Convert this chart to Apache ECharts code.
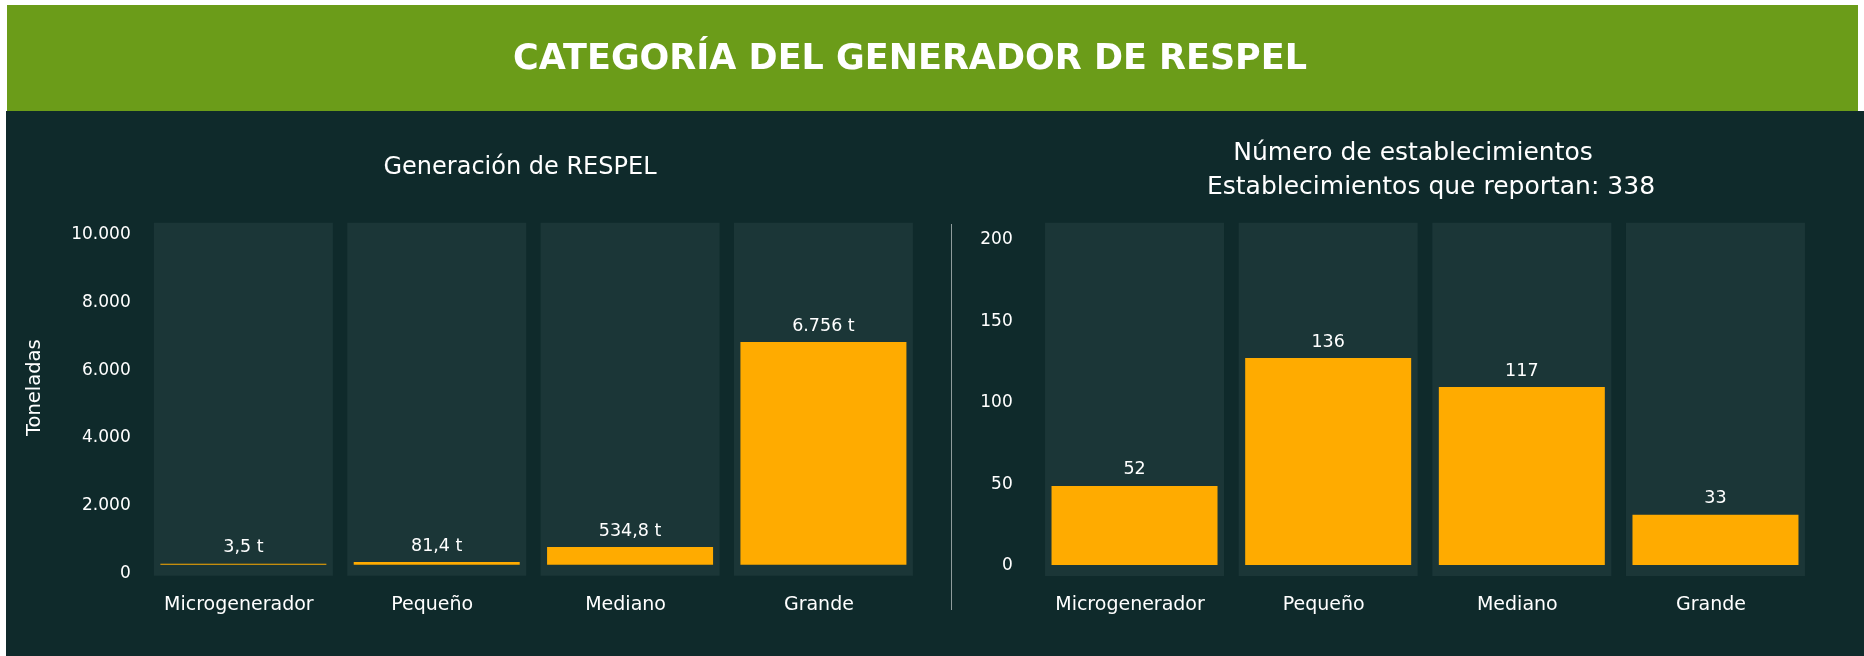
<!DOCTYPE html>
<html>
<head>
<meta charset="utf-8">
<script src="https://cdn.jsdelivr.net/npm/echarts@6/dist/echarts.min.js"></script>
<style>
  html, body { margin: 0; padding: 0; background: #ffffff; }
  .page { position: relative; width: 1864px; height: 656px; overflow: hidden; }
  .header { position: absolute; left: 7px; top: 5px; width: 1851px; height: 106px; background: #6b9c19; }
  .body { position: absolute; left: 6px; top: 111px; right: 0; bottom: 0; background: #0f2a2b; }
  #chart { position: absolute; left: 0; top: 0; width: 1864px; height: 656px; }
</style>
</head>
<body>
<div class="page">
  <div class="header"></div>
  <div class="body"></div>
  <div id="chart"></div>
</div>
<script>
// datos
const categories = ['Microgenerador', 'Pequeño', 'Mediano', 'Grande'];
const toneladas = [3.5, 81.4, 534.8, 6756];
const establecimientos = [52, 136, 117, 33];
const totalReportan = 338;
const tonTicks = [0, 2000, 4000, 6000, 8000, 10000];
const estTicks = [0, 50, 100, 150, 200];

const FONT = 'DejaVu Sans';
const BAR = '#ffab00';
const PANEL = '#1b3637';

// 6756 -> "6.756", 534.8 -> "534,8"
function fmtEs(v, dec) {
  let parts = v.toFixed(dec).split('.');
  let ent = parts[0].replace(/\B(?=(\d{3})+(?!\d))/g, '.');
  return parts[1] ? ent + ',' + parts[1] : ent;
}

let chart = echarts.init(document.getElementById('chart'));

function labelAxis(grid, ticks, margin, extra) {
  return Object.assign({
    type: 'value',
    gridIndex: grid,
    min: ticks[0],
    max: ticks[ticks.length - 1],
    interval: ticks[1] - ticks[0],
    axisLine: { show: false },
    axisTick: { show: false },
    splitLine: { show: false },
    axisLabel: {
      color: '#ffffff', fontFamily: FONT, fontSize: 17, margin: margin,
      formatter: v => fmtEs(v, 0)
    }
  }, extra || {})
}

function hiddenX(grid) {
  return { type: 'category', gridIndex: grid, data: categories, show: false }
}

function catX(grid) {
  return {
    type: 'category', gridIndex: grid, data: categories,
    axisLine: { show: false }, axisTick: { show: false },
    axisLabel: {
      color: '#ffffff', fontFamily: FONT, fontSize: 19, margin: 20, interval: 0,
      padding: [0, 9, 0, 0]
    }
  }
}

function hiddenY(grid, min, max) {
  return { type: 'value', gridIndex: grid, min: min, max: max, show: false, splitLine: { show: false } }
}

chart.setOption({
  animation: false,
  title: [
    {
      text: 'CATEGORÍA DEL GENERADOR DE RESPEL',
      left: 910, top: 42, textAlign: 'center', padding: 0,
      textStyle: { color: '#ffffff', fontFamily: FONT, fontSize: 35, fontWeight: 'bold' }
    },
    {
      text: 'Generación de RESPEL',
      left: 520, top: 156, textAlign: 'center', padding: 0,
      textStyle: { color: '#ffffff', fontFamily: FONT, fontSize: 24, fontWeight: 'normal' }
    },
    {
      text: 'Número de establecimientos',
      left: 1413, top: 141, textAlign: 'center', padding: 0,
      textStyle: { color: '#ffffff', fontFamily: FONT, fontSize: 25, fontWeight: 'normal' }
    },
    {
      text: 'Establecimientos que reportan: ' + totalReportan,
      left: 1431, top: 175, textAlign: 'center', padding: 0,
      textStyle: { color: '#ffffff', fontFamily: FONT, fontSize: 25, fontWeight: 'normal' }
    }
  ],
  grid: [
    { left: 146.7, width: 773.4, top: 235, height: 338.3 },   // ejes toneladas
    { left: 146.7, width: 773.4, top: 222.7, height: 353 },   // barras toneladas
    { left: 1037.7, width: 774.6, top: 240, height: 326 },    // ejes establecimientos
    { left: 1037.7, width: 774.6, top: 222.7, height: 353.3 } // barras establecimientos
  ],
  xAxis: [
    hiddenX(0),
    catX(1),
    hiddenX(1),
    hiddenX(2),
    catX(3),
    hiddenX(3)
  ],
  yAxis: [
    labelAxis(0, tonTicks, 16, {
      name: 'Toneladas',
      nameLocation: 'middle',
      nameRotate: 90,
      nameGap: 102,
      nameTextStyle: { color: '#ffffff', fontFamily: FONT, fontSize: 19.5, padding: [0, 0, 0, 33] }
    }),
    hiddenY(1, -333.7, 10376),
    labelAxis(2, estTicks, 25),
    hiddenY(3, -7.23, 225)
  ],
  graphic: [
    {
      type: 'line', silent: true,
      shape: { x1: 951.5, y1: 224, x2: 951.5, y2: 610 },
      style: { stroke: '#8f9c9c', lineWidth: 1 }
    }
  ],
  series: [
    {
      name: 'fondo toneladas', type: 'bar', xAxisIndex: 2, yAxisIndex: 1,
      data: toneladas, barWidth: 179, silent: true,
      itemStyle: { color: 'rgba(0,0,0,0)' },
      showBackground: true, backgroundStyle: { color: PANEL }
    },
    {
      name: 'Toneladas', type: 'bar', xAxisIndex: 1, yAxisIndex: 1,
      data: toneladas, barWidth: 166, barMinHeight: 1,
      itemStyle: { color: BAR },
      label: {
        show: true, position: 'top', distance: 7,
        color: '#ffffff', fontFamily: FONT, fontSize: 17.5,
        formatter: p => fmtEs(p.value, p.value >= 1000 ? 0 : 1) + ' t'
      }
    },
    {
      name: 'fondo establecimientos', type: 'bar', xAxisIndex: 5, yAxisIndex: 3,
      data: establecimientos, barWidth: 179, silent: true,
      itemStyle: { color: 'rgba(0,0,0,0)' },
      showBackground: true, backgroundStyle: { color: PANEL }
    },
    {
      name: 'Establecimientos', type: 'bar', xAxisIndex: 4, yAxisIndex: 3,
      data: establecimientos, barWidth: 166,
      itemStyle: { color: BAR },
      label: {
        show: true, position: 'top', distance: 7,
        color: '#ffffff', fontFamily: FONT, fontSize: 17.5,
        formatter: p => fmtEs(p.value, 0)
      }
    }
  ]
})
</script>
</body>
</html>
